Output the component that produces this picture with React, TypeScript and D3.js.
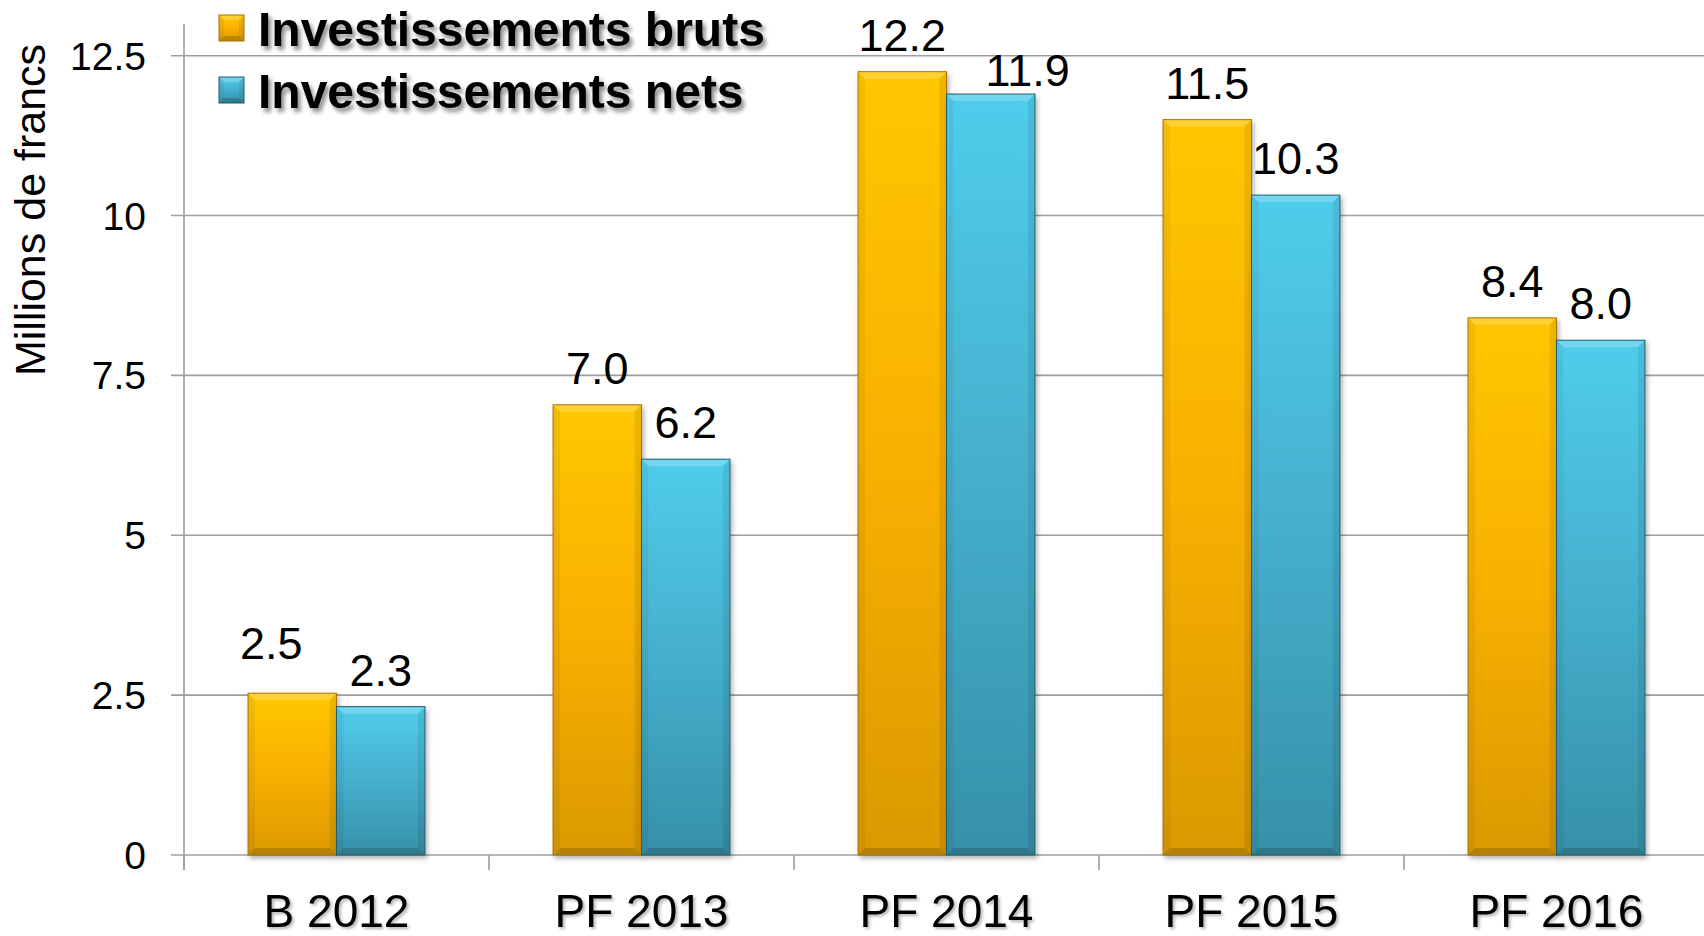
import { useRef, useEffect } from "react";
import * as d3 from "d3";

// données
const categories = ["B 2012", "PF 2013", "PF 2014", "PF 2015", "PF 2016"];
const seriesNames = ["Investissements bruts", "Investissements nets"];
const brutsValues = [2.53, 7.04, 12.25, 11.5, 8.4];
const netsValues = [2.32, 6.19, 11.9, 10.32, 8.05];
const brutsLabels = ["2.5", "7.0", "12.2", "11.5", "8.4"];
const netsLabels = ["2.3", "6.2", "11.9", "10.3", "8.0"];
const yTicks = [0, 2.5, 5, 7.5, 10, 12.5];
const yTitle = "Millions de francs";

const W = 1704;
const H = 936;
const FONT = "'Liberation Sans', Arial, sans-serif";

// petits décalages manuels des étiquettes (comme dans l'original)
const LABEL_NUDGE: Record<string, [number, number]> = {
  "0-0": [-21, -13],
  "2-1": [37, 13],
};

const App = () => {
  const svgRef = useRef<SVGSVGElement | null>(null);

  useEffect(() => {
    const svg = d3.select(svgRef.current);
    svg.selectAll("*").remove();

    const defs = svg.append("defs");
    const grads = [
      { id: "gOrange", stops: ["#ffc700", "#f8b000", "#db9900"] },
      { id: "gBlue", stops: ["#50cdec", "#45afcd", "#3690a8"] },
    ];
    grads.forEach((g) => {
      const lg = defs
        .append("linearGradient")
        .attr("id", g.id)
        .attr("x1", 0)
        .attr("y1", 0)
        .attr("x2", 0)
        .attr("y2", 1);
      g.stops.forEach((c, i) =>
        lg.append("stop").attr("offset", i / (g.stops.length - 1)).attr("stop-color", c)
      );
    });
    const borders = ["#a87300", "#215c6c"];
    const fills = ["url(#gOrange)", "url(#gBlue)"];

    const addShadow = (id: string, dx: number, dy: number, sd: number, op: number) => {
      defs
        .append("filter")
        .attr("id", id)
        .attr("x", "-20%")
        .attr("y", "-20%")
        .attr("width", "140%")
        .attr("height", "140%")
        .append("feDropShadow")
        .attr("dx", dx)
        .attr("dy", dy)
        .attr("stdDeviation", sd)
        .attr("flood-color", "#000")
        .attr("flood-opacity", op);
    };
    addShadow("barShadow", 2, 3, 2.5, 0.3);
    addShadow("legShadow", 3, 4, 2, 0.45);
    addShadow("catShadow", 2, 2, 1.5, 0.3);

    // échelles
    const x = d3
      .scaleBand()
      .domain(categories)
      .range([184, 1709])
      .paddingInner(0.42)
      .paddingOuter(0.21);
    const xs = d3.scaleBand().domain(["0", "1"]).range([0, x.bandwidth()]);
    const y = d3.scaleLinear().domain([0, 12.5]).range([855, 55.7]);

    // grille + graduations
    const grid = svg.append("g");
    yTicks.forEach((t) => {
      grid
        .append("line")
        .attr("x1", 171)
        .attr("x2", W)
        .attr("y1", y(t))
        .attr("y2", y(t))
        .attr("stroke", "#9e9e9e")
        .attr("stroke-width", 1.6);
      grid
        .append("text")
        .attr("x", 146)
        .attr("y", y(t) + 14)
        .attr("text-anchor", "end")
        .attr("font-family", FONT)
        .attr("font-size", 39)
        .attr("fill", "#000")
        .text(d3.format("~g")(t));
    });
    grid
      .append("line")
      .attr("x1", 184)
      .attr("x2", 184)
      .attr("y1", 24)
      .attr("y2", 870)
      .attr("stroke", "#9e9e9e")
      .attr("stroke-width", 1.6);
    const step = x.step();
    d3.range(categories.length + 1).forEach((i) => {
      const tx = 184 + i * step;
      grid
        .append("line")
        .attr("x1", tx)
        .attr("x2", tx)
        .attr("y1", 855)
        .attr("y2", 870)
        .attr("stroke", "#9e9e9e")
        .attr("stroke-width", 1.6);
    });

    // barres avec biseau
    const bevel = (
      g: d3.Selection<SVGGElement, unknown, null, undefined>,
      bx: number,
      by: number,
      bw: number,
      bh: number,
      fill: string,
      stroke: string,
      b: number
    ) => {
      g.append("rect")
        .attr("x", bx)
        .attr("y", by)
        .attr("width", bw)
        .attr("height", bh)
        .attr("fill", fill);
      const k = Math.min(b, bh / 2, bw / 2);
      const polys: [number[][], string, number][] = [
        [[[bx, by], [bx + bw, by], [bx + bw - k, by + k], [bx + k, by + k]], "#fff", 0.2],
        [[[bx, by], [bx + k, by + k], [bx + k, by + bh - k], [bx, by + bh]], "#000", 0.05],
        [[[bx + bw, by], [bx + bw, by + bh], [bx + bw - k, by + bh - k], [bx + bw - k, by + k]], "#000", 0.08],
        [[[bx, by + bh], [bx + k, by + bh - k], [bx + bw - k, by + bh - k], [bx + bw, by + bh]], "#000", 0.16],
      ];
      polys.forEach(([pts, c, o]) => {
        g.append("polygon")
          .attr("points", pts.map((p) => p.join(",")).join(" "))
          .attr("fill", c)
          .attr("fill-opacity", o);
      });
      g.append("rect")
        .attr("x", bx)
        .attr("y", by)
        .attr("width", bw)
        .attr("height", bh)
        .attr("fill", "none")
        .attr("stroke", stroke)
        .attr("stroke-width", 1);
    };

    const series = [brutsValues, netsValues];
    const labels = [brutsLabels, netsLabels];
    const bars = svg.append("g");
    categories.forEach((c, i) => {
      series.forEach((vals, s) => {
        const bx = (x(c) as number) + (xs(String(s)) as number);
        const by = y(vals[i]);
        const g = bars.append("g").attr("filter", "url(#barShadow)");
        bevel(g, bx, by, xs.bandwidth(), y(0) - by, fills[s], borders[s], 7);
      });
    });

    // étiquettes de valeurs
    categories.forEach((c, i) => {
      series.forEach((vals, s) => {
        const cx = (x(c) as number) + (xs(String(s)) as number) + xs.bandwidth() / 2;
        const [dx, dy] = LABEL_NUDGE[`${i}-${s}`] || [0, 0];
        svg
          .append("text")
          .attr("x", cx + dx)
          .attr("y", y(vals[i]) - 21 + dy)
          .attr("text-anchor", "middle")
          .attr("font-family", FONT)
          .attr("font-size", 45)
          .attr("fill", "#000")
          .text(labels[s][i]);
      });
    });

    // catégories
    categories.forEach((c) => {
      svg
        .append("text")
        .attr("x", (x(c) as number) + x.bandwidth() / 2)
        .attr("y", 927)
        .attr("text-anchor", "middle")
        .attr("font-family", FONT)
        .attr("font-size", 46)
        .attr("fill", "#000")
        .attr("filter", "url(#catShadow)")
        .text(c);
    });

    // titre de l'axe
    svg
      .append("text")
      .attr("transform", "translate(45,210) rotate(-90)")
      .attr("text-anchor", "middle")
      .attr("font-family", FONT)
      .attr("font-size", 43)
      .attr("fill", "#000")
      .text(yTitle);

    // légende
    const leg = svg.append("g");
    seriesNames.forEach((name, s) => {
      const ly = 15 + s * 62;
      bevel(leg.append("g"), 219, ly, 25, 26, fills[s], borders[s], 5);
      leg
        .append("text")
        .attr("x", 258)
        .attr("y", ly + 31)
        .attr("font-family", FONT)
        .attr("font-weight", "bold")
        .attr("font-size", 48)
        .attr("fill", "#000")
        .attr("filter", "url(#legShadow)")
        .text(name);
    });
  }, []);

  return (
    <svg
      ref={svgRef}
      width={W}
      height={H}
      style={{ position: "absolute", left: 0, top: 0, display: "block", background: "#fff" }}
    />
  );
};

export default App;
